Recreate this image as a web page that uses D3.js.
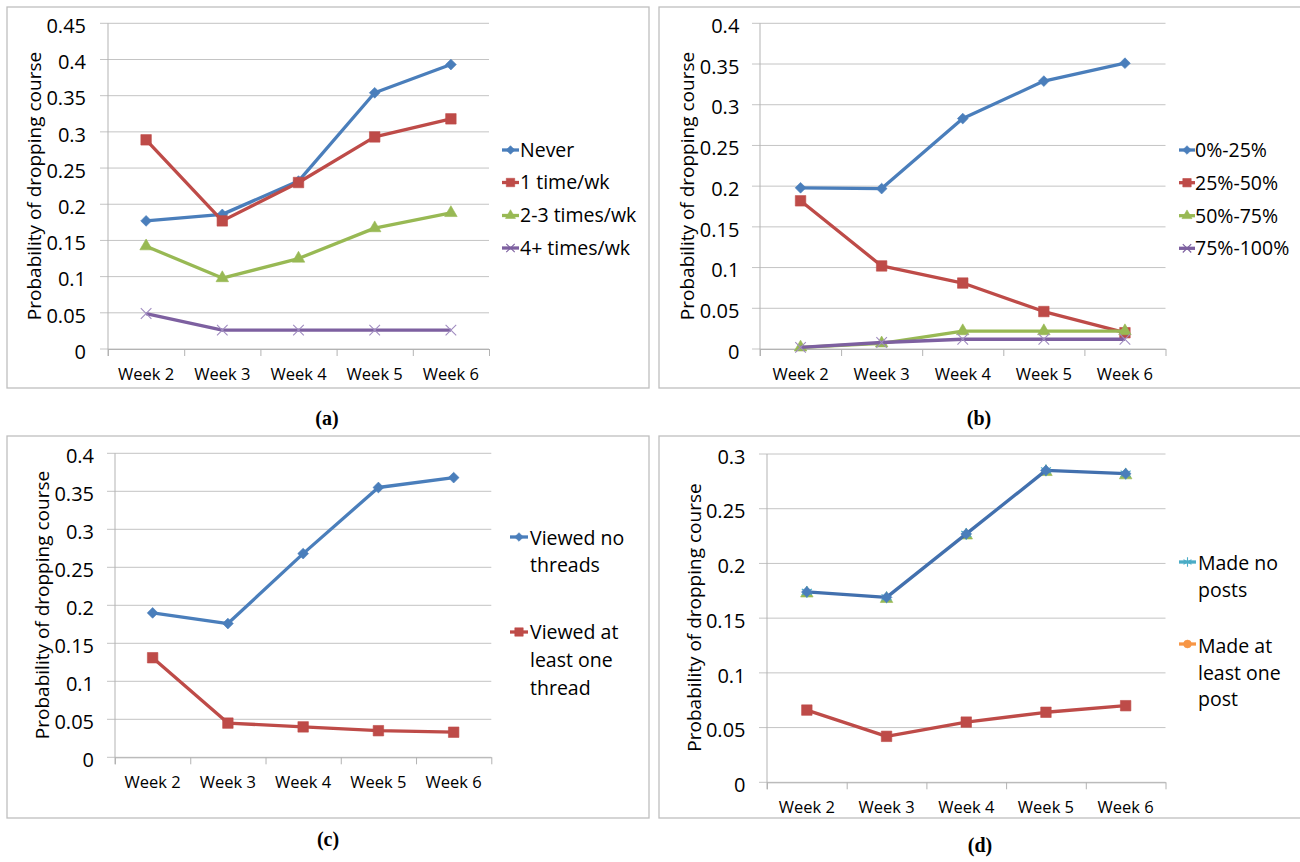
<!DOCTYPE html>
<html>
<head>
<meta charset="utf-8">
<script src="https://cdn.jsdelivr.net/npm/d3@7"></script>
<style>
  body { margin: 0; background: #fff; }
  svg text { font-family: "Open Sans", "Liberation Sans", sans-serif; fill: #000; }
  svg text.caption { font-family: "Liberation Serif", "Times New Roman", serif; font-weight: bold; }
  svg .ytick text { font-size: 20px; }
  svg .xtick text { font-size: 16.5px; }
</style>
</head>
<body>
<svg id="chart" width="1300" height="862"></svg>
<script>
// Shared category axis
const weeks = ["Week 2", "Week 3", "Week 4", "Week 5", "Week 6"];
const yTitle = "Probability of dropping course";

// (a) lecture-viewing frequency
const ticksA = [0, 0.05, 0.1, 0.15, 0.2, 0.25, 0.3, 0.35, 0.4, 0.45];
const namesA = ["Never", "1 time/wk", "2-3 times/wk", "4+ times/wk"];
const neverA = [0.177, 0.186, 0.232, 0.354, 0.393];
const oncePerWeekA = [0.289, 0.177, 0.230, 0.293, 0.318];
const twoThreeA = [0.142, 0.098, 0.125, 0.167, 0.188];
const fourPlusA = [0.049, 0.026, 0.026, 0.026, 0.026];

// (b) share of assignments done
const ticksB = [0, 0.05, 0.1, 0.15, 0.2, 0.25, 0.3, 0.35, 0.4];
const namesB = ["0%-25%", "25%-50%", "50%-75%", "75%-100%"];
const firstQuarterB = [0.198, 0.197, 0.283, 0.329, 0.351];
const secondQuarterB = [0.182, 0.102, 0.081, 0.046, 0.020];
const thirdQuarterB = [0.002, 0.007, 0.022, 0.022, 0.022];
const fourthQuarterB = [0.002, 0.008, 0.012, 0.012, 0.012];

// (c) forum threads viewed
const ticksC = [0, 0.05, 0.1, 0.15, 0.2, 0.25, 0.3, 0.35, 0.4];
const namesC = [["Viewed no", "threads"], ["Viewed at", "least one", "thread"]];
const viewedNoneC = [0.190, 0.176, 0.268, 0.355, 0.368];
const viewedSomeC = [0.131, 0.045, 0.040, 0.035, 0.033];

// (d) forum posts made
const ticksD = [0, 0.05, 0.1, 0.15, 0.2, 0.25, 0.3];
const namesD = [["Made no", "posts"], ["Made at", "least one", "post"]];
const postedNoneD = [0.174, 0.169, 0.227, 0.285, 0.282];
const postedSomeD = [0.066, 0.042, 0.055, 0.064, 0.070];

// Palette
const BLUE = "#4A7EBB", RED = "#BE4B48", GREEN = "#98B954", PURPLE = "#7D60A0";
const TEAL = "#4BACC6", ORANGE = "#F79646", DARKBLUE = "#4270AE";

const svg = d3.select("#chart");

function markerPath(kind, scale) {
  const k = scale || 1;
  switch (kind) {
    case "diamond": return d3.symbol(d3.symbolSquare, 58 * k * k)();
    case "square": return d3.symbol(d3.symbolSquare, 110 * k * k)();
    case "triangle": return d3.symbol(d3.symbolTriangle, 68 * k * k)();
    case "circle": return d3.symbol(d3.symbolCircle, 75 * k * k)();
    case "x": return d3.symbol(d3.symbolX || d3.symbolCross, 75 * k * k)();
    case "asterisk": return d3.symbol(d3.symbolAsterisk || d3.symbolCross, 95 * k * k)();
  }
}

function drawMarker(sel, kind, color, cx, cy, scale) {
  const stroked = kind === "x" || kind === "asterisk";
  sel.append("path")
    .attr("d", markerPath(kind, scale))
    .attr("transform", `translate(${cx},${cy})` + (kind === "diamond" ? " rotate(45)" : ""))
    .attr("fill", stroked ? "none" : color)
    .attr("stroke", color)
    .attr("stroke-width", stroked ? 1.1 : 0.6);
}

function drawPanel(o) {
  const g = svg.append("g");

  // panel frame
  g.append("rect")
    .attr("x", o.frame[0]).attr("y", o.frame[1])
    .attr("width", o.frame[2] - o.frame[0]).attr("height", o.frame[3] - o.frame[1])
    .attr("fill", "none").attr("stroke", "#BFBFBF").attr("stroke-width", 1.3);

  const x = d3.scaleBand().domain(weeks).range([o.left, o.right]);
  const xEdge = d3.scaleLinear().domain([0, weeks.length]).range([o.left, o.right]);
  const y = d3.scaleLinear().domain([0, d3.max(o.ticks)]).range([o.bottom, o.top]);
  const cx = w => x(w) + x.bandwidth() / 2;

  // horizontal gridlines, running a little past the value axis
  g.append("g").selectAll("line").data(o.ticks).join("line")
    .attr("x1", o.left - 8).attr("x2", o.right)
    .attr("y1", d => y(d)).attr("y2", d => y(d))
    .attr("stroke", "#C4C4C4").attr("stroke-width", 1);

  // value axis
  const ya = g.append("g").attr("class", "ytick")
    .attr("transform", `translate(${o.left},0)`)
    .call(d3.axisLeft(y).tickValues(o.ticks).tickFormat(d3.format("~g")).tickSize(0).tickPadding(o.yPad));
  ya.attr("font-size", 20).attr("font-family", null);
  ya.select(".domain").remove();
  ya.selectAll("text").attr("font-size", 20).attr("dy", "0.46em");
  g.append("line")
    .attr("x1", o.left).attr("x2", o.left)
    .attr("y1", o.top).attr("y2", o.bottom + 7)
    .attr("stroke", "#B3B3B3");

  // category axis: ticks between categories, labels centred in each band
  const xt = g.append("g").attr("transform", `translate(0,${o.bottom})`)
    .call(d3.axisBottom(xEdge).tickValues(d3.range(weeks.length + 1)).tickFormat("").tickSize(7).tickSizeOuter(0));
  xt.select(".domain").attr("stroke", "#B3B3B3");
  xt.selectAll(".tick line").attr("stroke", "#B3B3B3");
  const xl = g.append("g").attr("class", "xtick")
    .attr("transform", `translate(0,${o.bottom})`)
    .call(d3.axisBottom(x).tickSize(0).tickPadding(19.3));
  xl.attr("font-size", 16.5).attr("font-family", null);
  xl.select(".domain").remove();

  // axis title
  g.append("text")
    .attr("transform", `translate(${o.titleX},${o.titleY}) rotate(-90)`)
    .attr("text-anchor", "middle").attr("dy", "0.35em")
    .style("font-size", "19px")
    .text(yTitle);

  // series
  const line = d3.line().x((v, i) => cx(weeks[i])).y(v => y(v));
  o.series.forEach(s => {
    (s.under || []).forEach(u => {
      s.values.forEach((v, i) => drawMarker(g, u.marker, u.color, cx(weeks[i]), y(v) + (u.dy || 0), u.scale));
    });
    g.append("path").datum(s.values)
      .attr("d", line).attr("fill", "none")
      .attr("stroke", s.color).attr("stroke-width", 3.3)
      .attr("stroke-linejoin", "round");
    s.values.forEach((v, i) => drawMarker(g, s.marker, s.markerColor || s.color, cx(weeks[i]), y(v), 1));
  });

  // legend
  const L = o.legend;
  L.entries.forEach(e => {
    const ly = e.markerY;
    g.append("line")
      .attr("x1", L.mx0).attr("x2", L.mx1).attr("y1", ly).attr("y2", ly)
      .attr("stroke", e.color).attr("stroke-width", 3.3);
    drawMarker(g, e.marker, e.color, (L.mx0 + L.mx1) / 2, ly, 0.8);
    e.lines.forEach((t, r) => {
      g.append("text")
        .attr("x", L.tx).attr("y", e.rows[r]).attr("dy", "0.35em")
        .style("font-size", "19.5px")
        .text(t);
    });
  });

  // caption
  g.append("text").attr("class", "caption")
    .attr("x", o.capX).attr("y", o.capY)
    .attr("text-anchor", "middle")
    .style("font-size", "20px")
    .text(o.caption);
}

drawPanel({
  frame: [7, 7, 649, 388], left: 108, right: 489, top: 23.3, bottom: 349,
  ticks: ticksA, yPad: 22, titleX: 34, titleY: 186,
  series: [
    { values: neverA, color: BLUE, marker: "diamond" },
    { values: oncePerWeekA, color: RED, marker: "square" },
    { values: twoThreeA, color: GREEN, marker: "triangle" },
    { values: fourPlusA, color: PURPLE, marker: "x", markerColor: "#A08CC0" }
  ],
  legend: {
    mx0: 502, mx1: 519, tx: 520,
    entries: [
      { lines: [namesA[0]], rows: [150], markerY: 150, color: BLUE, marker: "diamond" },
      { lines: [namesA[1]], rows: [182.5], markerY: 182.5, color: RED, marker: "square" },
      { lines: [namesA[2]], rows: [215.5], markerY: 215.5, color: GREEN, marker: "triangle" },
      { lines: [namesA[3]], rows: [248], markerY: 248, color: PURPLE, marker: "x" }
    ]
  },
  caption: "(a)", capX: 327, capY: 425
});

drawPanel({
  frame: [659, 7, 1301, 388], left: 760, right: 1165.5, top: 23.3, bottom: 349,
  ticks: ticksB, yPad: 20.7, titleX: 687, titleY: 186,
  series: [
    { values: firstQuarterB, color: BLUE, marker: "diamond" },
    { values: secondQuarterB, color: RED, marker: "square" },
    { values: thirdQuarterB, color: GREEN, marker: "triangle" },
    { values: fourthQuarterB, color: PURPLE, marker: "x", markerColor: "#A08CC0" }
  ],
  legend: {
    mx0: 1179, mx1: 1195, tx: 1195,
    entries: [
      { lines: [namesB[0]], rows: [150], markerY: 150, color: BLUE, marker: "diamond" },
      { lines: [namesB[1]], rows: [182.7], markerY: 182.7, color: RED, marker: "square" },
      { lines: [namesB[2]], rows: [215.7], markerY: 215.7, color: GREEN, marker: "triangle" },
      { lines: [namesB[3]], rows: [248.3], markerY: 248.3, color: PURPLE, marker: "x" }
    ]
  },
  caption: "(b)", capX: 979, capY: 425
});

drawPanel({
  frame: [7, 436, 649, 818], left: 115, right: 491.3, top: 453.3, bottom: 757.3,
  ticks: ticksC, yPad: 21, titleX: 42, titleY: 605,
  series: [
    { values: viewedNoneC, color: BLUE, marker: "diamond" },
    { values: viewedSomeC, color: RED, marker: "square" }
  ],
  legend: {
    mx0: 510, mx1: 528, tx: 530,
    entries: [
      { lines: namesC[0], rows: [538, 565], markerY: 537, color: BLUE, marker: "diamond" },
      { lines: namesC[1], rows: [632, 660, 688], markerY: 632, color: RED, marker: "square" }
    ]
  },
  caption: "(c)", capX: 328, capY: 846
});

drawPanel({
  frame: [659, 436, 1301, 818], left: 767, right: 1165.5, top: 454, bottom: 782.3,
  ticks: ticksD, yPad: 21.5, titleX: 694, titleY: 617.5,
  series: [
    { values: postedNoneD, color: DARKBLUE, marker: "diamond", markerColor: "#4A7EBB",
      under: [{ marker: "triangle", color: GREEN, scale: 1.0, dy: 1.5 }, { marker: "asterisk", color: TEAL, scale: 1 }] },
    { values: postedSomeD, color: RED, marker: "square" }
  ],
  legend: {
    mx0: 1179, mx1: 1196, tx: 1198,
    entries: [
      { lines: namesD[0], rows: [563, 590], markerY: 562, color: TEAL, marker: "asterisk" },
      { lines: namesD[1], rows: [646, 673, 699], markerY: 644, color: ORANGE, marker: "circle" }
    ]
  },
  caption: "(d)", capX: 980, capY: 852
});
</script>
</body>
</html>
